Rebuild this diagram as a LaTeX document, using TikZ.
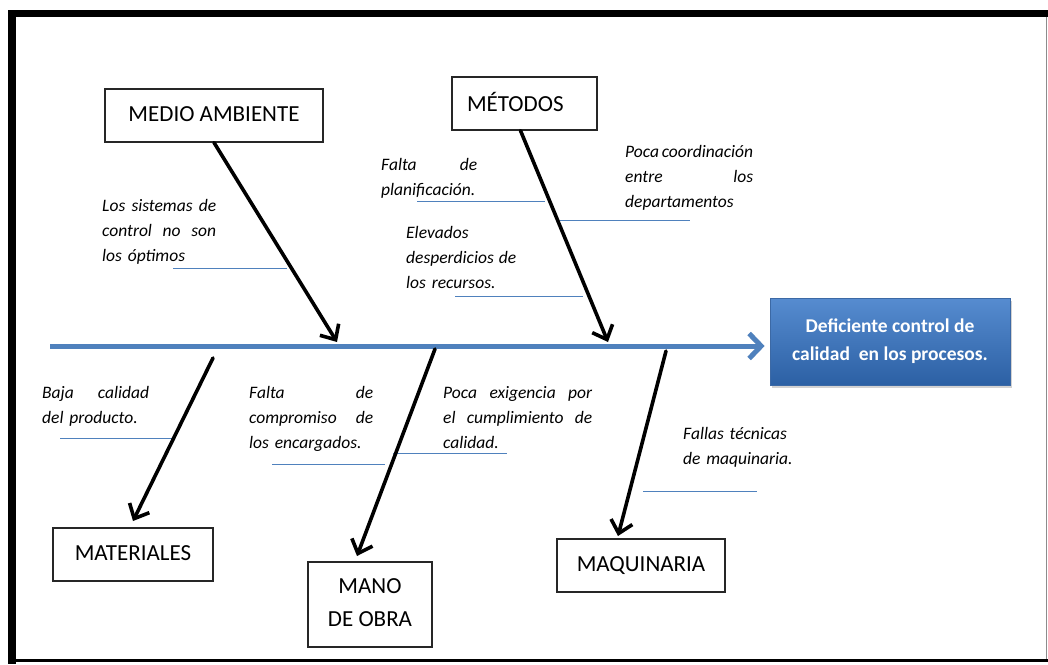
\documentclass[tikz,border=0pt]{standalone}
\usepackage{fontspec}
\setmainfont{Carlito}
\usetikzlibrary{arrows.meta,shadows}
\definecolor{spineblue}{RGB}{79,129,189}
\definecolor{boxtop}{RGB}{86,140,208}
\definecolor{boxbot}{RGB}{44,96,164}
\definecolor{boxedge}{RGB}{60,105,165}
\newcommand\justline[2]{{\spaceskip=0pt\xspaceskip=0pt\makebox[#1][s]{#2}}}
\begin{document}
\begin{tikzpicture}[x=1pt,y=-1pt,
  catbox/.style={draw=black!85, line width=1.2pt, fill=white, inner sep=0pt,
    font=\fontsize{23}{33}\selectfont, align=center},
  cause/.style={line width=3.6pt, line cap=round, -{Straight Barb[length=12pt,width=22pt]}},
  spine/.style={draw=spineblue, line width=5pt, -{Straight Barb[length=12pt,width=25pt]}},
  lbl/.style={anchor=base west, inner sep=0pt, font=\fontsize{17.5}{25}\selectfont\itshape, align=left},
  uline/.style={draw=spineblue, line width=1pt},
  effectbox/.style={rectangle, draw=boxedge, line width=0.8pt, top color=boxtop, bottom color=boxbot,
    text=white, font=\fontsize{19.5}{28}\selectfont\bfseries, align=center, inner sep=0pt,
    drop shadow={shadow xshift=2pt, shadow yshift=-3pt, opacity=0.35}}]
\useasboundingbox (0,0) rectangle (1048,664);
% frame
\fill[white] (0,0) rectangle (1048,664);
\fill[black] (8,10) rectangle (1048,17);
\fill[black] (8,10) rectangle (16,664);
\fill[black] (16,659) rectangle (1048,662);
\draw[black!45, line width=1pt] (1046.5,17) -- (1046.5,659);

% category boxes
\node[catbox, minimum width=218pt, minimum height=53pt] (medio) at (214,115.5) {MEDIO AMBIENTE\rule[-3pt]{0pt}{1pt}};
\node[catbox, inner xsep=15pt, text width=115pt, align=left, minimum height=53pt] (metodos) at (524.5,103.5) {MÉTODOS\rule[-3pt]{0pt}{1pt}};
\node[catbox, minimum width=160pt, minimum height=53pt] (materiales) at (133,554.5) {MATERIALES\rule[-3pt]{0pt}{1pt}};
\node[catbox, minimum width=124pt, minimum height=85pt] (mano) at (370,604.5) {MANO\\DE OBRA\rule[-3pt]{0pt}{1pt}};
\node[catbox, minimum width=168pt, minimum height=53pt] (maquinaria) at (641,565.5) {MAQUINARIA\rule[-3pt]{0pt}{1pt}};

% effect
\node[effectbox, minimum width=240pt, minimum height=87pt] (effect) at (890,341.5)
  {Deficiente control de\\calidad~ en los procesos.\rule[-4pt]{0pt}{1pt}};

% labels
\node[lbl, text width=114pt] (l1) at (102,211) {\justline{114pt}{Los sistemas de}\\\justline{114pt}{control no son}\\los óptimos};
\node[lbl, text width=96pt] (l2) at (381,170) {\justline{96pt}{Falta de}\\planificación.};
\node[lbl, text width=130pt] (l3) at (625,157) {\justline{128pt}{Poca coordinación}\\\justline{128pt}{entre los}\\departamentos};
\node[lbl, text width=112pt] (l4) at (406,238) {Elevados\\\justline{110pt}{desperdicios de}\\los recursos.};
\node[lbl, text width=107pt] (l5) at (42,398) {\justline{107pt}{Baja calidad}\\del producto.};
\node[lbl, text width=124pt] (l6) at (249,398) {\justline{124pt}{Falta de}\\\justline{124pt}{compromiso de}\\los encargados.};
\node[lbl, text width=149pt] (l7) at (443,398) {\justline{149pt}{Poca exigencia por}\\\justline{149pt}{el cumplimiento de}\\calidad.};
\node[lbl, text width=130pt] (l8) at (683,439) {Fallas técnicas\\de maquinaria.};

% underlines
\draw[uline] (173,268) -- (287,268);
\draw[uline] (417,201) -- (545,201);
\draw[uline] (560,220) -- (690,220);
\draw[uline] (455,296) -- (583,296);
\draw[uline] (60,438) -- (173,438);
\draw[uline] (272,464) -- (385,464);
\draw[uline] (393,453) -- (507,453);
\draw[uline] (643,491) -- (757,491);

% spine
\coordinate (spstart) at (50,346);
\draw[spine] (spstart) -- ([xshift=-5pt]effect.west |- spstart);

% cause arrows
\coordinate (s1) at (337,342);
\coordinate (s2) at (608,342);
\coordinate (m1) at (213,358);
\coordinate (m2) at (435,349);
\coordinate (m3) at (666,351);
\coordinate (e1) at (133,521);
\coordinate (e2) at (357,556);
\coordinate (e3) at (618,536);
\draw[cause] (medio.south) -- (s1);
\draw[cause] ([xshift=-4pt]metodos.south) -- (s2);
\draw[cause] (m1) -- (e1);
\draw[cause] (m2) -- (e2);
\draw[cause] (m3) -- (e3);
\end{tikzpicture}
\end{document}
